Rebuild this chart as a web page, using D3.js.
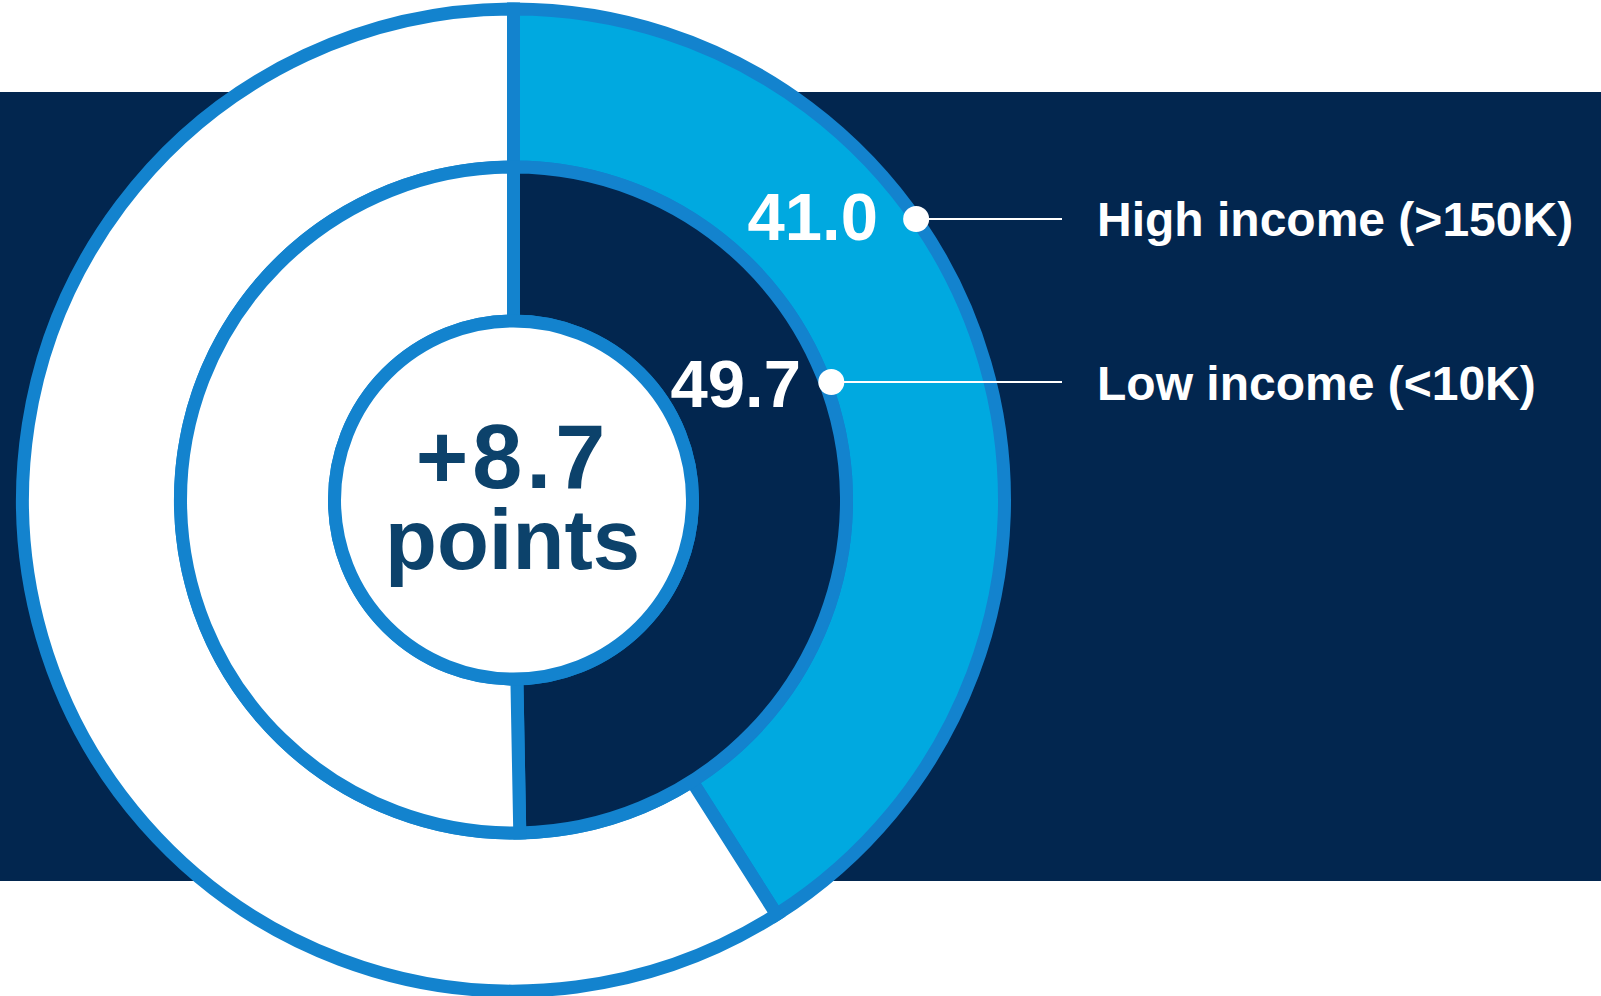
<!DOCTYPE html>
<html>
<head>
<meta charset="utf-8">
<script src="https://cdn.jsdelivr.net/npm/d3@7"></script>
<style>
  html, body { margin: 0; padding: 0; background: #ffffff; }
  svg { display: block; font-family: "Liberation Sans", Arial, sans-serif; }
</style>
</head>
<body>
<svg id="chart"></svg>
<script>
// Data
const categories = ['High income (>150K)', 'Low income (<10K)'];
const values = [41.0, 49.7];
const valueLabels = ['41.0', '49.7'];
const unitLabel = 'points';

const width = 1601, height = 996;
const cx = 513.5, cy = 500;

const svg = d3.select('#chart')
    .attr('width', width)
    .attr('height', height);

// navy band behind the rings
svg.append('rect')
    .attr('x', 0).attr('y', 92)
    .attr('width', width).attr('height', 789)
    .attr('fill', '#02264f');

const angle = d3.scaleLinear().domain([0, 100]).range([0, 2 * Math.PI]);

// outer ring = first series, inner ring = second series
const rings = [
    { value: values[0], r0: 333, r1: 491, fill: '#00a9e0' },
    { value: values[1], r0: 179, r1: 333, fill: '#02264f' }
];

const arc = d3.arc();
const g = svg.append('g').attr('transform', `translate(${cx},${cy})`);

rings.forEach(ring => {
    const segs = [
        { start: 0, end: angle(ring.value), fill: ring.fill },
        { start: angle(ring.value), end: angle(100), fill: '#ffffff' }
    ];
    g.selectAll(null)
        .data(segs)
        .join('path')
        .attr('d', d => arc({ innerRadius: ring.r0, outerRadius: ring.r1, startAngle: d.start, endAngle: d.end }))
        .attr('fill', d => d.fill)
        .attr('stroke', '#1383ce')
        .attr('stroke-width', 13)
        .attr('stroke-linejoin', 'miter');
});

// center disc
g.append('circle')
    .attr('r', 179)
    .attr('fill', '#ffffff')
    .attr('stroke', '#1383ce')
    .attr('stroke-width', 13);

g.append('text')
    .attr('x', -1)
    .attr('y', -12)
    .attr('text-anchor', 'middle')
    .attr('fill', '#0c426b')
    .attr('font-size', '90px')
    .attr('font-weight', 'bold')
    .attr('letter-spacing', '4px')
    .text('+' + d3.format('.1f')(values[1] - values[0]));

g.append('text')
    .attr('x', -1)
    .attr('y', 69)
    .attr('text-anchor', 'middle')
    .attr('fill', '#0c426b')
    .attr('font-size', '85px')
    .attr('font-weight', 'bold')
    .text(unitLabel);

// callouts: dot sits on the ring edge at the callout's height
const callouts = [
    { lineY: 219, r: 491, valueX: 878, valueY: 240, labelY: 236 },
    { lineY: 382, r: 339, valueX: 801, valueY: 407, labelY: 400 }
];

callouts.forEach((c, i) => {
    const dy = c.lineY - cy;
    const dotX = cx + Math.sqrt(c.r * c.r - dy * dy);

    svg.append('line')
        .attr('x1', dotX).attr('x2', 1062)
        .attr('y1', c.lineY).attr('y2', c.lineY)
        .attr('stroke', '#ffffff')
        .attr('stroke-width', 2);

    svg.append('circle')
        .attr('cx', dotX).attr('cy', c.lineY)
        .attr('r', 13)
        .attr('fill', '#ffffff');

    svg.append('text')
        .attr('x', c.valueX)
        .attr('y', c.valueY)
        .attr('text-anchor', 'end')
        .attr('fill', '#ffffff')
        .attr('font-size', '67px')
        .attr('font-weight', 'bold')
        .text(valueLabels[i]);

    svg.append('text')
        .attr('x', 1097)
        .attr('y', c.labelY)
        .attr('fill', '#ffffff')
        .attr('font-size', '48px')
        .attr('font-weight', 'bold')
        .text(categories[i]);
});
</script>
</body>
</html>
